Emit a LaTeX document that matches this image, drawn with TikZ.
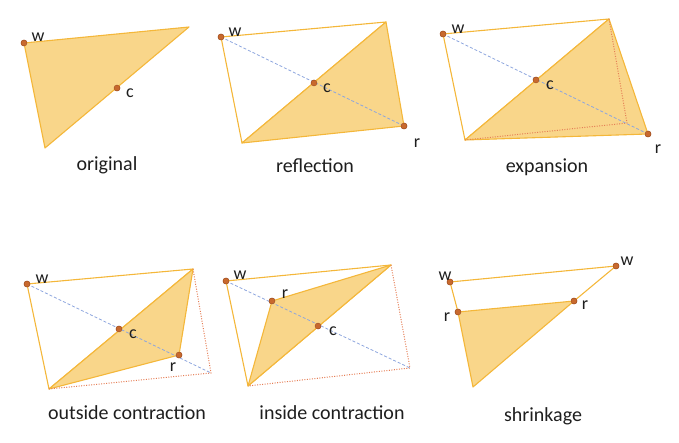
\documentclass[tikz,border=0pt]{standalone}
\usepackage{fontspec}
\setmainfont{Carlito}
\definecolor{edgeY}{HTML}{F4B73A}
\definecolor{fillY}{HTML}{F9D68A}
\definecolor{fillL}{HTML}{FBE2AA}
\definecolor{dotC}{HTML}{C8692E}
\definecolor{dotB}{HTML}{9E4E22}
\definecolor{blueD}{HTML}{8DA6DE}
\definecolor{redD}{HTML}{E57E55}
\definecolor{txt}{HTML}{1E1E1E}
\tikzset{
  edge/.style={draw=edgeY, line width=1.1pt, line join=round},
  face/.style={fill=fillY, draw=edgeY, line width=1.1pt, line join=round},
  dia/.style={draw=blueD, dashed, dash pattern=on 3pt off 2pt, line width=0.8pt},
  dotline/.style={draw=redD, dash pattern=on 1pt off 1.5pt, line width=1pt},
  pt/.style={circle, fill=dotC, draw=dotB, line width=0.4pt, inner sep=0pt, minimum size=6pt},
  lab/.style={font=\fontsize{18}{20}\selectfont, text=txt, inner sep=0pt},
  captext/.style={font=\fontsize{20}{22}\selectfont, text=txt, inner sep=0pt},
}
\begin{document}
\begin{tikzpicture}[x=1pt,y=-1pt]
\useasboundingbox (0,0) rectangle (679,443);
% ---------- original ----------
\coordinate (oA) at (189,27);
\coordinate (oB) at (45,148);
\node[pt] (ow) at (24,43) {};
\node[pt] (oc) at (117,88) {};
\path[face] (ow.center) -- (oA) -- (oB) -- cycle;
\node[pt] at (ow) {};
\node[pt] at (oc) {};
\node[lab] (owl) at (38,37) {w};
\node[lab] (ocl) at (130,93) {c};
\node[captext] (ocap) at (107,165) {original};
% ---------- reflection ----------
\coordinate (fA) at (386,22);
\coordinate (fB) at (242,143);
\node[pt] (fw) at (221,37) {};
\node[pt] (fc) at (314,83) {};
\node[pt] (fr) at (404,126) {};
\path[edge] (fw.center) -- (fA) -- (fB) -- cycle;
\path[face] (fA) -- (fr.center) -- (fB) -- cycle;
\path[dia] (fw.center) -- (fr.center);
\node[pt] at (fw) {};
\node[pt] at (fc) {};
\node[pt] at (fr) {};
\node[lab] (fwl) at (235,32) {w};
\node[lab] (fcl) at (327,88) {c};
\node[lab] (frl) at (417,143) {r};
\node[captext] (fcap) at (315,166) {reflection};
% ---------- expansion ----------
\coordinate (eA) at (609,19);
\coordinate (eB) at (465,140);
\coordinate (eR) at (627,123);
\node[pt] (ew) at (443,34) {};
\node[pt] (ec) at (536,80) {};
\node[pt] (er) at (648,134) {};
\path[edge] (ew.center) -- (eA) -- (eB) -- cycle;
\path[face] (eA) -- (er.center) -- (eB) -- cycle;
\path[dotline] (eA) -- (eR) -- (eB);
\path[dia] (ew.center) -- (er.center);
\node[pt] at (ew) {};
\node[pt] at (ec) {};
\node[pt] at (er) {};
\node[lab] (ewl) at (458,29) {w};
\node[lab] (ecl) at (550,85) {c};
\node[lab] (erl) at (658,149) {r};
\node[captext] (ecap) at (547,167) {expansion};
% ---------- outside contraction ----------
\coordinate (uA) at (193,269);
\coordinate (uB) at (49,389);
\coordinate (uR) at (211,373);
\node[pt] (uw) at (27,284) {};
\node[pt] (uc) at (119,329) {};
\node[pt] (ur) at (179,355) {};
\path[edge] (uw.center) -- (uA) -- (uB) -- cycle;
\path[face] (uA) -- (ur.center) -- (uB) -- cycle;
\path[dotline] (uA) -- (uR) -- (uB);
\path[dia] (uw.center) -- (uR);
\node[pt] at (uw) {};
\node[pt] at (uc) {};
\node[pt] at (ur) {};
\node[lab] (uwl) at (42,279) {w};
\node[lab] (ucl) at (133,334) {c};
\node[lab] (url) at (173,367) {r};
\node[captext] (ucap) at (127,413) {outside contraction};
% ---------- inside contraction ----------
\coordinate (iA) at (391,265);
\coordinate (iB) at (248,386);
\coordinate (iR) at (410,368);
\node[pt] (iw) at (226,281) {};
\node[pt] (ic) at (318,326) {};
\node[pt] (ir) at (272,301) {};
\path[edge] (iw.center) -- (iA) -- (iB) -- cycle;
\path[face] (ir.center) -- (iA) -- (iB) -- cycle;
\path[dotline] (iA) -- (iR) -- (iB);
\path[dia] (iw.center) -- (iR);
\node[pt] at (iw) {};
\node[pt] at (ic) {};
\node[pt] at (ir) {};
\node[lab] (iwl) at (240,275) {w};
\node[lab] (irl) at (285,294) {r};
\node[lab] (icl) at (333,331) {c};
\node[captext] (icap) at (332,413) {inside contraction};
% ---------- shrinkage ----------
\coordinate (sB) at (473,387);
\node[pt] (sw1) at (450,282) {};
\node[pt] (sw2) at (616,266) {};
\node[pt] (sr1) at (458,312) {};
\node[pt] (sr2) at (574,301) {};
\path[edge] (sr1.center) -- (sw1.center) -- (sw2.center) -- (sr2.center);
\path[face] (sr1.center) -- (sr2.center) -- (sB) -- cycle;
\node[pt] at (sw1) {};
\node[pt] at (sw2) {};
\node[pt] at (sr1) {};
\node[pt] at (sr2) {};
\node[lab] (sw1l) at (445,276) {w};
\node[lab] (sw2l) at (627,261) {w};
\node[lab] (sr1l) at (447,317) {r};
\node[lab] (sr2l) at (585,305) {r};
\node[captext] (scap) at (543,416) {shrinkage};
\end{tikzpicture}
\end{document}
